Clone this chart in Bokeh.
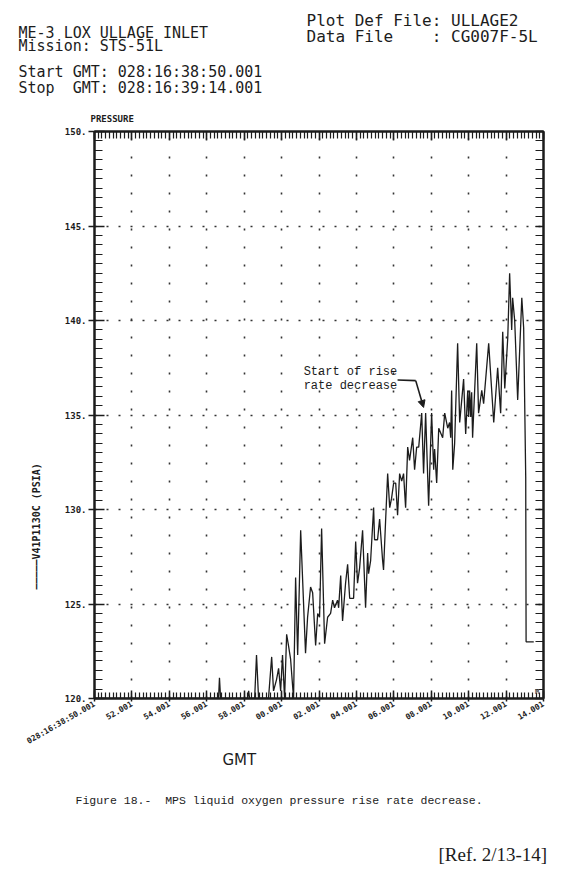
from bokeh.plotting import figure
from bokeh.models import (Range1d, LinearAxis, SingleIntervalTicker, Grid, Label,
                          Arrow, NormalHead, Title)
from bokeh.embed import file_html
from bokeh.resources import INLINE

# ---- data: seconds after 028:16:38:50.001 and pressure (psia) ----
t_sec = [0.0, 6.63, 6.68, 6.74, 8.18, 8.24, 8.29, 8.56, 8.66, 8.77,
         9.30, 9.47, 9.57, 9.73, 9.84, 9.95, 10.05, 10.16, 10.27, 10.37,
         10.48, 10.64, 10.75, 10.86, 11.02, 11.28, 11.39, 11.55, 11.66, 11.82,
         11.93, 12.03, 12.14, 12.30, 12.46, 12.62, 12.73, 12.83, 12.99, 13.05,
         13.16, 13.26, 13.42, 13.53, 13.64, 13.85, 13.96, 14.06, 14.17, 14.33,
         14.49, 14.60, 14.65, 14.76, 14.92, 14.97, 15.13, 15.24, 15.40, 15.45,
         15.56, 15.67, 15.78, 15.88, 15.99, 16.10, 16.20, 16.31, 16.42, 16.52,
         16.63, 16.74, 16.84, 17.01, 17.11, 17.22, 17.33, 17.49, 17.59, 17.70,
         17.86, 18.02, 18.13, 18.18, 18.29, 18.40, 18.61, 18.72, 18.88, 18.98,
         19.04, 19.09, 19.15, 19.25, 19.41, 19.52, 19.63, 19.73, 19.84, 19.95,
         20.00, 20.05, 20.11, 20.16, 20.21, 20.43, 20.53, 20.70, 20.80, 21.07,
         21.34, 21.55, 21.71, 21.82, 21.93, 22.09, 22.19, 22.30, 22.35, 22.46,
         22.62, 22.84, 22.94, 23.05, 23.07, 23.48]
psi = [120.0, 120.0, 121.1, 120.0, 120.0, 120.4, 120.0, 120.0, 122.3, 120.0,
       120.0, 122.2, 120.4, 121.0, 121.6, 120.4, 122.3, 120.0, 123.4, 122.8,
       122.1, 120.0, 126.4, 122.3, 128.9, 122.4, 124.3, 125.9, 125.6, 122.8,
       124.5, 124.3, 129.0, 122.9, 124.3, 124.5, 125.2, 124.8, 125.2, 124.8,
       126.5, 124.1, 126.1, 127.1, 125.3, 125.3, 128.3, 126.1, 126.9, 128.9,
       124.8, 127.7, 126.6, 127.3, 130.1, 128.4, 128.4, 129.5, 127.3, 126.8,
       129.4, 131.9, 130.1, 130.6, 131.4, 131.4, 129.7, 131.9, 131.5, 131.9,
       130.1, 133.3, 132.6, 133.8, 132.1, 133.3, 133.3, 135.1, 131.9, 135.1,
       130.2, 135.1, 132.1, 133.2, 131.4, 134.3, 133.8, 135.1, 134.3, 134.6,
       133.8, 136.3, 132.1, 133.5, 138.8, 134.6, 135.8, 136.9, 134.0, 136.3,
       134.9, 136.3, 134.9, 136.2, 133.8, 138.8, 135.1, 136.3, 135.6, 138.8,
       134.6, 137.5, 135.1, 139.4, 136.4, 139.1, 142.5, 139.5, 141.2, 140.0,
       135.8, 141.2, 139.6, 131.7, 123.0, 123.0]

x_ticks = [0, 2, 4, 6, 8, 10, 12, 14, 16, 18, 20, 22, 24]
x_tick_labels = ["028:16:38:50.001", "52.001", "54.001", "56.001", "58.001",
                 "00.001", "02.001", "04.001", "06.001", "08.001", "10.001",
                 "12.001", "14.001"]
y_ticks = [120, 125, 130, 135, 140, 145, 150]
y_tick_labels = ["120.", "125.", "130.", "135.", "140.", "145.", "150."]

INK = "#1c1c1c"
NB = "\u00a0"
W, H = 570, 866
FRAME_TOP, FRAME_BOTTOM = 131, 698

p = figure(width=W, height=H, output_backend="svg", toolbar_location=None,
           x_range=Range1d(0, 24), y_range=Range1d(120, 150),
           x_axis_type=None, y_axis_type=None,
           min_border_left=94, min_border_right=27,
           min_border_top=FRAME_TOP, min_border_bottom=H - FRAME_BOTTOM)
p.outline_line_color = INK
p.outline_line_width = 2
p.background_fill_color = "white"
p.border_fill_color = "white"


def style_axis(ax, labels=True, size="8px"):
    ax.axis_line_color = INK
    ax.axis_line_width = 2
    ax.major_tick_line_color = INK
    ax.minor_tick_line_color = INK
    ax.major_tick_line_width = 1.5
    ax.minor_tick_line_width = 1.2
    if labels:
        ax.major_label_text_font = "DejaVu Sans Mono"
        ax.major_label_text_font_style = "bold"
        ax.major_label_text_font_size = size
        ax.major_label_text_color = INK
    else:
        ax.major_label_text_font_size = "0px"
        ax.major_label_text_alpha = 0
        ax.major_label_standoff = 0


xb = LinearAxis(ticker=SingleIntervalTicker(interval=2, num_minor_ticks=10))
style_axis(xb)
xb.major_label_overrides = {t: s for t, s in zip(x_ticks, x_tick_labels)}
xb.major_label_orientation = 0.52
xb.major_tick_in = 8
xb.major_tick_out = 3
xb.minor_tick_in = 6
xb.minor_tick_out = 0
xb.major_label_standoff = 2
p.add_layout(xb, "below")

xt = LinearAxis(ticker=SingleIntervalTicker(interval=2, num_minor_ticks=10))
style_axis(xt, labels=False)
xt.major_tick_in = 8
xt.major_tick_out = 0
xt.minor_tick_in = 7
xt.minor_tick_out = 0
p.add_layout(xt, "above")

yl = LinearAxis(ticker=SingleIntervalTicker(interval=5, num_minor_ticks=10))
style_axis(yl, size="9px")
yl.major_label_overrides = {v: s for v, s in zip(y_ticks, y_tick_labels)}
yl.major_tick_in = 10
yl.major_tick_out = 6
yl.minor_tick_in = 8
yl.minor_tick_out = 0
yl.major_label_standoff = 2
yl.axis_label = "\u2014\u2014\u2014\u2014\u2014V41P1130C (PSIA)" + NB * 37
yl.axis_label_text_font = "DejaVu Sans Mono"
yl.axis_label_text_font_style = "bold"
yl.axis_label_text_font_size = "10px"
yl.axis_label_text_color = INK
yl.axis_label_standoff = 20
p.add_layout(yl, "left")

yr = LinearAxis(ticker=SingleIntervalTicker(interval=5, num_minor_ticks=10))
style_axis(yr, labels=False)
yr.major_tick_in = 8
yr.major_tick_out = 0
yr.minor_tick_in = 8
yr.minor_tick_out = 0
p.add_layout(yr, "right")

gx = Grid(dimension=0, ticker=SingleIntervalTicker(interval=2),
          grid_line_color="#333333", grid_line_width=1.6, grid_line_dash="2 16")
gy = Grid(dimension=1, ticker=SingleIntervalTicker(interval=5),
          grid_line_color="#333333", grid_line_width=1.6, grid_line_dash="2 10")
p.add_layout(gx)
p.add_layout(gy)

p.line(t_sec, psi, line_color=INK, line_width=1.3)

p.add_layout(Label(x=11.18, y=136.93, text="Start of rise", text_font="Liberation Mono",
                   text_font_size="12px", text_color=INK))
p.add_layout(Label(x=11.18, y=136.14, text="rate decrease", text_font="Liberation Mono",
                   text_font_size="12px", text_color=INK))
p.add_layout(Arrow(x_start=16.2, y_start=136.85, x_end=17.17, y_end=136.82,
                   end=None, line_color=INK, line_width=1.6))
p.add_layout(Arrow(x_start=17.17, y_start=136.82, x_end=17.59, y_end=135.40,
                   end=NormalHead(size=7, fill_color=INK, line_color=INK),
                   line_color=INK, line_width=1.6))
p.add_layout(Label(x=23.55, y=120.15, text="M", text_font="DejaVu Sans Mono",
                   text_font_size="7px", text_font_style="bold", text_color="#555555"))

# ---- header / footer text rows, placed as stacked titles ----
SP_SIZE = 10.0
SP_FIX = 4.1   # measured extra room needed per spacer row


def spacer(side, gap):
    # a (practically) invisible one-character title that only reserves vertical room
    p.add_layout(Title(text=".", align="left", offset=462,
                       standoff=gap - 2 - 1.2 * SP_SIZE + SP_FIX,
                       text_font="DejaVu Sans Mono", text_font_size=f"{SP_SIZE}px",
                       text_color="white", text_alpha=0.02), side)


def text_row(side, text, font, size, style, offset, valign):
    p.add_layout(Title(text=text, align="left", offset=offset,
                       standoff=-1.2 * size, vertical_align=valign,
                       text_font=font, text_font_size=f"{size}px",
                       text_font_style=style, text_color=INK), side)


MONO = "DejaVu Sans Mono"
# (text, font, size, style, x-offset from frame left, baseline y, baseline-to-centre)
above_rows = [
    ("PRESSURE", MONO, 9, "bold", -4, 121, 4.3),
    ("Stop" + NB + " GMT: 028:16:39:14.001", MONO, 15, "normal", -76, 91, 5.8),
    ("Start GMT: 028:16:38:50.001", MONO, 15, "normal", -76, 75, 5.8),
    ("Mission: STS-51L", MONO, 15, "normal", -76, 49, 5.8),
    ("Data File" + NB * 3 + " : CG007F-5L", MONO, 16, "normal", 212, 40, 6.0),
    ("ME-3 LOX ULLAGE INLET", MONO, 15, "normal", -76, 36, 5.8),
    ("Plot Def File: ULLAGE2", MONO, 16, "normal", 212, 24, 6.0),
]
below_rows = [
    ("GMT", "DejaVu Sans", 15, "normal", 128, 763, 5.8),
    ("Figure 18.-" + NB + " MPS liquid oxygen pressure rise rate decrease.",
     "Liberation Mono", 11.5, "normal", -19, 803, 4.85),
    ("[Ref. 2/13-14]", "Liberation Serif", 19, "normal", 344, 860, 6.0),
]

cursor = float(FRAME_TOP)
for text, font, size, style, off, base, m in above_rows:
    centre = base - m
    gap = cursor - (centre + 1)
    if gap > 0.3:
        spacer("above", gap)
        cursor -= gap
    text_row("above", text, font, size, style, off, "bottom")
    cursor -= 2

AXIS_BELOW = 51.7
cursor = FRAME_BOTTOM + AXIS_BELOW
for text, font, size, style, off, base, m in below_rows:
    centre = base - m
    gap = (centre - 1) - cursor
    if gap > 0.3:
        spacer("below", gap)
        cursor += gap
    text_row("below", text, font, size, style, off, "top")
    cursor += 2

open("out.html", "w").write(file_html(p, INLINE))
